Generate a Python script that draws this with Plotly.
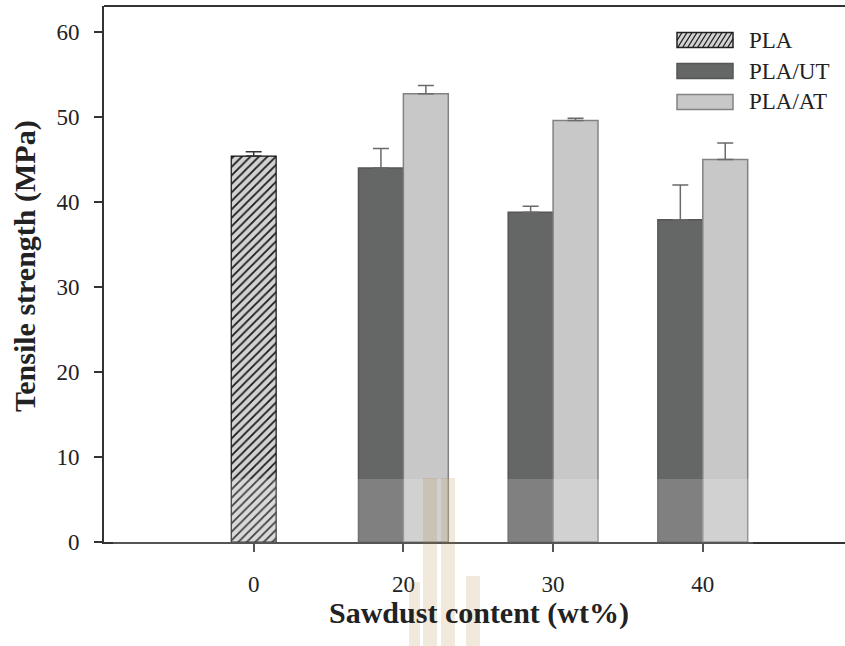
import plotly.graph_objects as go

# Sawdust content categories (wt%)
categories = ["0", "20", "30", "40"]

# Tensile strength (MPa) and upper error (MPa) per formulation
pla_values = [45.4, None, None, None]
pla_errors = [0.5, 0, 0, 0]
ut_values = [None, 44.0, 38.8, 37.9]
ut_errors = [0, 2.3, 0.7, 4.1]
at_values = [None, 52.75, 49.6, 45.0]
at_errors = [0, 0.95, 0.25, 1.95]

series_names = ["PLA", "PLA/UT", "PLA/AT"]
y_ticks = [0, 10, 20, 30, 40, 50, 60]

W, H = 845, 646
ML, MR, MT, MB = 104, 0, 6, 104
PW, PH = W - ML - MR, H - MT - MB

FONT = "Liberation Serif, Times New Roman, serif"
UT_FILL, UT_LINE = "#656766", "#545554"
AT_FILL, AT_LINE = "#c8c8c8", "#828282"


def px(x):
    return (x - ML) / PW


def py(y):
    return (H - MB - y) / PH


fig = go.Figure()

fig.add_bar(
    x=categories, y=pla_values, name=series_names[0], width=0.3, offset=-0.15,
    marker=dict(color="#d2d2d2", line=dict(color="#111111", width=1.2),
                pattern=dict(shape="/", fgcolor="#1a1a1a", bgcolor="#d2d2d2",
                             size=6, solidity=0.3, fillmode="replace")),
    error_y=dict(type="data", symmetric=False, array=pla_errors,
                 arrayminus=[0] * 4, color="#333333", thickness=1.5, width=8),
    showlegend=False,
)
fig.add_bar(
    x=categories, y=ut_values, name=series_names[1], width=0.3, offset=-0.3,
    marker=dict(color=UT_FILL, line=dict(color=UT_LINE, width=1.5)),
    error_y=dict(type="data", symmetric=False, array=ut_errors,
                 arrayminus=[0] * 4, color="#6a6a6a", thickness=1.5, width=8),
    showlegend=False,
)
fig.add_bar(
    x=categories, y=at_values, name=series_names[2], width=0.3, offset=0.0,
    marker=dict(color=AT_FILL, line=dict(color=AT_LINE, width=1.5)),
    error_y=dict(type="data", symmetric=False, array=at_errors,
                 arrayminus=[0] * 4, color="#6a6a6a", thickness=1.5, width=8),
    showlegend=False,
)

shapes = []
annotations = []

# top frame line
shapes.append(dict(type="line", xref="paper", yref="paper", x0=0, x1=1.01,
                   y0=1, y1=1, line=dict(color="#333333", width=2)))

# legend block
sw_x0, sw_x1, sw_h = 677, 733, 15
rows = [40, 71, 102]
fills = [("#d2d2d2", "#222222"), (UT_FILL, UT_LINE), (AT_FILL, AT_LINE)]
for name, cy, (fc, lc) in zip(series_names, rows, fills):
    y0, y1 = cy + sw_h / 2, cy - sw_h / 2
    shapes.append(dict(type="rect", xref="paper", yref="paper",
                       x0=px(sw_x0), x1=px(sw_x1), y0=py(y0), y1=py(y1),
                       fillcolor=fc, line=dict(color=lc, width=1.5)))
    annotations.append(dict(xref="paper", yref="paper", x=px(747), y=py(cy),
                            xanchor="left", yanchor="middle", showarrow=False,
                            text=name, font=dict(family=FONT, size=23, color="#222222")))

# hatch lines in the PLA swatch
cy = rows[0]
bot, top = cy + sw_h / 2, cy - sw_h / 2
k = 1.6  # vertical px per horizontal px
span = sw_h / k
c = sw_x0 - span
while c < sw_x1:
    xa = max(sw_x0, c)
    xb = min(sw_x1, c + span)
    if xb > xa:
        ya = bot - (xa - c) * k
        yb = bot - (xb - c) * k
        shapes.append(dict(type="line", xref="paper", yref="paper",
                           x0=px(xa), x1=px(xb), y0=py(ya), y1=py(yb),
                           line=dict(color="#1a1a1a", width=1.2)))
    c += 5

# faint light band near the baseline
shapes.append(dict(type="rect", xref="paper", yref="paper", layer="above",
                   x0=px(113), x1=px(753), y0=py(479), y1=py(556),
                   fillcolor="rgba(255,255,255,0.17)", line=dict(width=0)))

# emblem mark
emblem = [(423, 437, 478, 646), (441, 455, 478, 646),
          (409, 420, 582, 646), (466, 480, 576, 646)]
for x0, x1, y0, y1 in emblem:
    shapes.append(dict(type="rect", xref="paper", yref="paper", layer="above",
                       x0=px(x0), x1=px(x1), y0=py(y1), y1=py(y0),
                       fillcolor="rgba(165,120,30,0.16)", line=dict(width=0)))

# axis titles
annotations.append(dict(xref="paper", yref="paper", x=px(25), y=py(266),
                        xanchor="center", yanchor="middle", textangle=-90,
                        showarrow=False, text="<b>Tensile strength (MPa)</b>",
                        font=dict(family=FONT, size=30, color="#222222")))
annotations.append(dict(xref="paper", yref="paper", x=px(479), y=py(613),
                        xanchor="center", yanchor="middle",
                        showarrow=False, text="<b>Sawdust content (wt%)</b>",
                        font=dict(family=FONT, size=30, color="#222222")))

fig.update_layout(
    width=W, height=H,
    margin=dict(l=ML, r=MR, t=MT, b=MB, autoexpand=False),
    paper_bgcolor="white", plot_bgcolor="white",
    barmode="overlay",
    shapes=shapes, annotations=annotations,
    xaxis=dict(type="category", categoryorder="array", categoryarray=categories,
               range=[-1, 3.95], showgrid=False, zeroline=False,
               showline=True, linecolor="#333333", linewidth=2,
               ticks="outside", ticklen=8, tickwidth=1.5, tickcolor="#333333",
               ticklabelstandoff=12,
               tickfont=dict(family=FONT, size=23, color="#222222")),
    yaxis=dict(range=[0, PH / 8.5], tickvals=y_ticks, showgrid=False,
               zeroline=False, showline=True, linecolor="#333333", linewidth=2,
               ticks="outside", ticklen=8, tickwidth=1.5, tickcolor="#333333",
               ticklabelstandoff=10,
               tickfont=dict(family=FONT, size=23, color="#222222")),
)

fig.write_html("out.html")
